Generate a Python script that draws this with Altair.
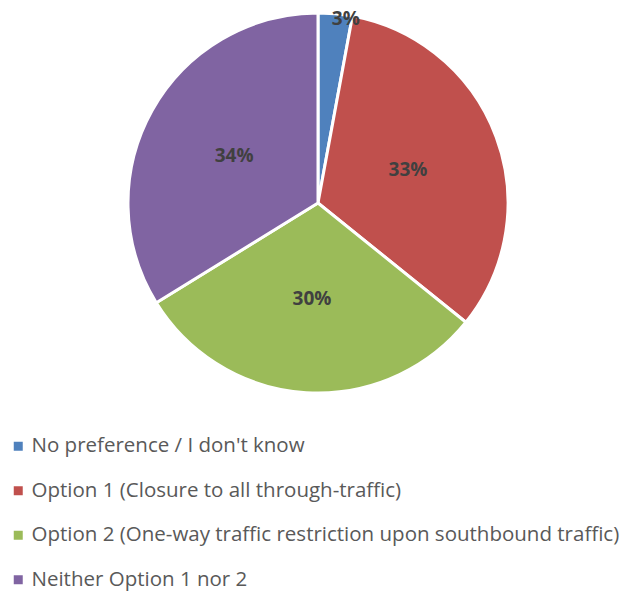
import altair as alt
import pandas as pd

categories = [
    "No preference / I don't know",
    "Option 1 (Closure to all through-traffic)",
    "Option 2 (One-way traffic restriction upon southbound traffic)",
    "Neither Option 1 nor 2",
]
values = [2.9, 32.9, 30.4, 33.8]
colors = ["#4F81BD", "#C0504D", "#9BBB59", "#8064A2"]

df = pd.DataFrame({"category": categories, "value": values, "order": list(range(len(categories)))})

cx, cy = 310, 195
base = alt.Chart(df).encode(
    theta=alt.Theta("value:Q", stack=True),
    order=alt.Order("order:Q"),
    x=alt.value(cx),
    y=alt.value(cy),
)

pie = base.mark_arc(outerRadius=190, stroke="white", strokeWidth=3).encode(
    color=alt.Color(
        "category:N",
        scale=alt.Scale(domain=categories, range=colors),
        sort=categories,
        legend=alt.Legend(
            title=None,
            orient="none",
            legendX=0,
            legendY=428,
            direction="vertical",
            symbolType="square",
            symbolSize=81,
            symbolStrokeWidth=0,
            labelFont="Open Sans",
            labelFontSize=20.5,
            labelColor="#595959",
            labelOffset=3,
            labelLimit=700,
            rowPadding=23.5,
            padding=0,
        ),
    )
)

lab = base.transform_joinaggregate(total="sum(value)").transform_calculate(
    pct="datum.value / datum.total",
    big="datum.value / datum.total >= 0.05 ? format(datum.value / datum.total, '.0%') : ''",
    small="datum.value / datum.total < 0.05 ? format(datum.value / datum.total, '.0%') : ''",
)
text_style = dict(font="Open Sans", fontSize=19, fontWeight="bold", color="#404040",
                  baseline="middle", align="center")

labels_big = lab.mark_text(radius=96, **text_style).encode(text="big:N")
labels_small = lab.mark_text(radius=185, dx=11, **text_style).encode(text="small:N")

chart = alt.layer(pie, labels_big, labels_small).properties(
    width=621, height=584, padding=0, autosize=alt.AutoSizeParams(type="none")
).configure_view(stroke=None)

chart.save("out.html", embed_options={"renderer": "svg", "actions": False})
